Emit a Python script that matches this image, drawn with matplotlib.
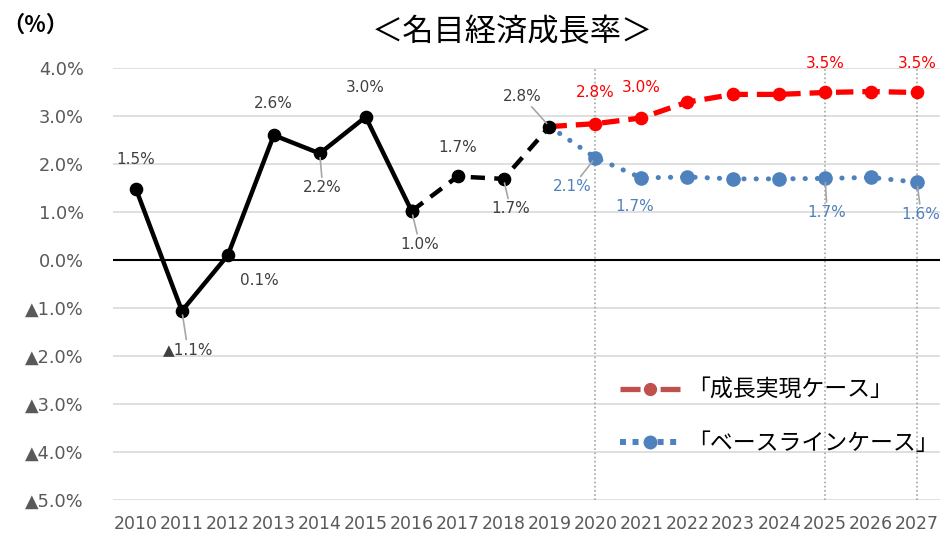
import matplotlib
matplotlib.use("Agg")
import matplotlib.pyplot as plt
from matplotlib.lines import Line2D

# ---- data ----
years = [str(y) for y in range(2010, 2028)]
actual = [1.48, -1.06, 0.10, 2.60, 2.22, 2.98, 1.02, 1.74, 1.69, 2.78]          # 2010-2019
growth_case = [2.78, 2.84, 2.96, 3.29, 3.45, 3.45, 3.49, 3.51, 3.49]            # 2019-2027
baseline_case = [2.78, 2.13, 1.71, 1.73, 1.69, 1.69, 1.70, 1.72, 1.62]          # 2019-2027
yticks = [4, 3, 2, 1, 0, -1, -2, -3, -4, -5]
title = "＜名目経済成長率＞"
unit_label = "（%）"
legend_labels = ["「成長実現ケース」", "「ベースラインケース」"]
highlight_years = ["2020", "2025", "2027"]

plt.rcParams['font.family'] = ['DejaVu Sans', 'Noto Sans CJK JP']

def fmt(v):
    v = round(v, 1)
    return f"{v:.1f}%" if v >= 0 else f"▲{abs(v):.1f}%"

fig = plt.figure(figsize=(9.41, 5.42), dpi=100)
W, H = 941, 542
ax = fig.add_axes([113 / W, 42 / H, (940 - 113) / W, (474 - 42) / H])

x_all = list(range(len(years)))
x_act = x_all[:len(actual)]
x_fc = x_all[len(actual) - 1:]

ax.set_xlim(-0.5, len(years) - 0.5)
ax.set_ylim(min(yticks), max(yticks))

# gridlines
for yv in yticks:
    if yv == 0:
        ax.axhline(yv, color='black', lw=1.5, zorder=2)
    else:
        ax.axhline(yv, color='#D9D9D9', lw=1.2, zorder=1)

for hy in highlight_years:
    ax.axvline(years.index(hy), color='#A6A6A6', lw=1.2, ls=(0, (1, 1.5)), zorder=1)

# lines
n_solid = years.index("2016") + 1
ax.plot(x_act[:n_solid], actual[:n_solid], color='black', lw=3.2, marker='o', ms=8.8,
        zorder=6, solid_joinstyle='round')
ax.plot(x_act[n_solid - 1:], actual[n_solid - 1:], color='black', lw=3.2,
        dashes=(3.2, 2.1), marker='o', ms=8.8, zorder=6)
ax.plot(x_fc, growth_case, color='#FF0000', lw=3.8, dashes=(3.3, 1.7), marker='o',
        ms=8.8, markevery=slice(1, None), zorder=5)
ax.plot(x_fc, baseline_case, color='#4F81BD', lw=3.6, dashes=(0.05, 2.4),
        dash_capstyle='round', marker='o', ms=9.5, markevery=slice(1, None), zorder=4)

# data labels
lead = dict(arrowstyle='-', color='#A6A6A6', lw=1.2, shrinkA=0, shrinkB=3)
act_offsets = [(0, 29), (6, -39), (32, -25), (0, 32), (3, -34), (0, 29), (8, -33),
               (0, 29), (7, -30), (-27, 30)]
act_lead = [False, True, False, False, True, False, True, False, True, True]
for xi, v, off, ld in zip(x_act, actual, act_offsets, act_lead):
    ax.annotate(fmt(v), (xi, v), xytext=off, textcoords='offset pixels',
                ha='center', va='center', fontsize=11, color='#404040',
                arrowprops=lead if ld else None, zorder=7)

red_idx = {"2020": (0, 31), "2021": (0, 30), "2025": (0, 29), "2027": (0, 29)}
for yr, off in red_idx.items():
    i = years.index(yr)
    v = growth_case[i - x_fc[0]]
    ax.annotate(fmt(v), (i, v), xytext=off, textcoords='offset pixels',
                ha='center', va='center', fontsize=11, color='#FF0000', zorder=7)

blue_idx = {"2020": ((-23, -29), True), "2021": ((-7, -29), False),
            "2025": ((2, -34), True), "2027": ((4, -32), True)}
for yr, (off, ld) in blue_idx.items():
    i = years.index(yr)
    v = baseline_case[i - x_fc[0]]
    ax.annotate(fmt(v), (i, v), xytext=off, textcoords='offset pixels',
                ha='center', va='center', fontsize=11, color='#4F81BD',
                arrowprops=lead if ld else None, zorder=7)

# axes
ax.set_xticks(x_all)
ax.set_xticklabels(years)
ax.set_yticks(yticks)
ax.set_yticklabels([fmt(v) for v in yticks])
ax.tick_params(axis='y', length=0, pad=21, labelsize=12.8, labelcolor='#595959')
ax.tick_params(axis='x', length=0, pad=11, labelsize=12.5, labelcolor='#595959')
for s in ax.spines.values():
    s.set_visible(False)

fig.text(512 / W, 1 - 32 / H, title, ha='center', va='center', fontsize=22.5,
         family='Noto Sans CJK JP')
fig.text(2 / W, 1 - 25 / H, unit_label, ha='left', va='center', fontsize=16,
         family='Noto Sans CJK JP', fontweight='bold')

# legend
h1 = Line2D([], [], color='#C0504D', lw=3.8, dashes=(3.8, 3.8), marker='o', ms=8.5)
h2 = Line2D([], [], color='#4F81BD', lw=4.3, dashes=(1, 1.1), marker='o', ms=9)
ax.legend([h1, h2], legend_labels, loc='upper left',
          bbox_to_anchor=(620 / W, 1 - 379 / H), bbox_transform=fig.transFigure,
          frameon=False, borderpad=0, borderaxespad=0, handlelength=60 / 22.9,
          handletextpad=0.3, labelspacing=1.33,
          prop={'family': 'Noto Sans CJK JP', 'size': 16.5})

fig.savefig("out.png", dpi=100)
